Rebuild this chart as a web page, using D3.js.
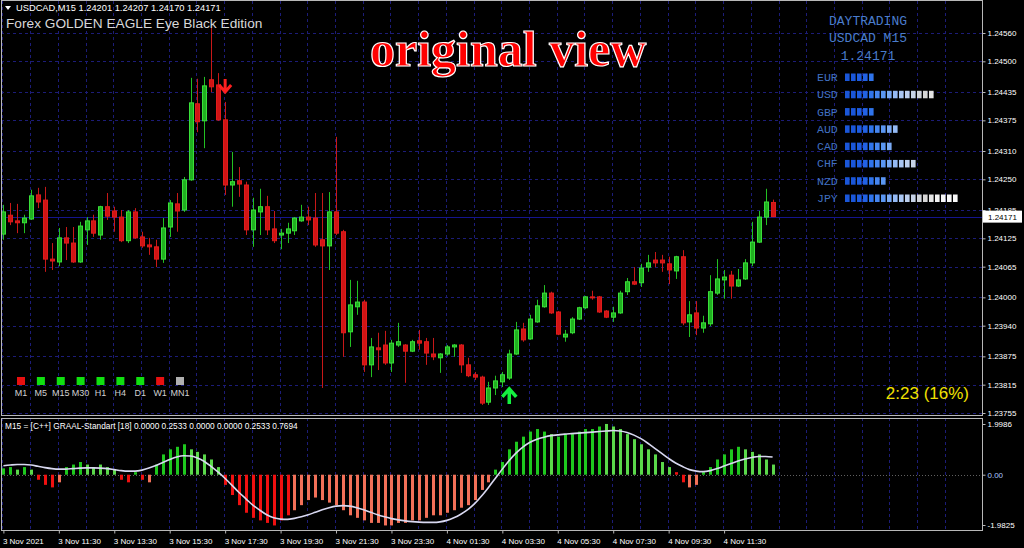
<!DOCTYPE html>
<html><head><meta charset="utf-8">
<script src="https://cdn.jsdelivr.net/npm/d3@7"></script>
<style>body{margin:0;background:#000;overflow:hidden}svg{display:block}</style>
</head><body><svg id="c" width="1024" height="548"></svg>
<script>
// ---------------- DATA ----------------
const open = [
1.24134,1.24174,1.24162,1.24158,1.24166,1.24217,1.24206,1.24081,1.24075,1.24126,
1.24115,1.24075,1.24143,1.24162,1.24132,1.24192,1.24183,1.24170,1.24120,1.24181,
1.24128,1.24111,1.24107,1.24081,1.24149,1.24198,1.24185,1.24249,1.24410,1.24374,
1.24461,1.24450,1.24376,1.24238,1.24247,1.24238,1.24143,1.24181,1.24192,1.24145,
1.24132,1.24136,1.24141,1.24162,1.24170,1.24168,1.24122,1.24109,1.24181,1.24139,
1.23927,1.23980,1.23990,1.23857,1.23893,1.23899,1.23861,1.23899,1.23899,1.23886,
1.23908,1.23906,1.23880,1.23872,1.23880,1.23895,1.23899,1.23857,1.23836,1.23831,
1.23778,1.23808,1.23821,1.23829,1.23880,1.23933,1.23912,1.23948,1.23980,1.24009,
1.23969,1.23916,1.23925,1.23954,1.23978,1.24001,1.24001,1.23971,1.23958,1.23967,
1.24012,1.24033,1.24031,1.24064,1.24079,1.24079,1.24071,1.24056,1.24086,1.23948,
1.23967,1.23935,1.23944,1.24009,1.24037,1.24047,1.24024,1.24039,1.24073,1.24117,
1.24170,1.24201];
const high = [
1.24196,1.24200,1.24198,1.24175,1.24228,1.24232,1.24234,1.24115,1.24147,1.24149,
1.24149,1.24160,1.24170,1.24175,1.24194,1.24221,1.24192,1.24185,1.24185,1.24189,
1.24139,1.24126,1.24122,1.24168,1.24206,1.24221,1.24255,1.24465,1.24463,1.24467,
1.24573,1.24475,1.24414,1.24308,1.24276,1.24245,1.24211,1.24230,1.24215,1.24183,
1.24145,1.24158,1.24170,1.24196,1.24192,1.24221,1.24221,1.24223,1.24340,1.24143,
1.24037,1.24035,1.23995,1.23914,1.23925,1.23929,1.23910,1.23946,1.23901,1.23910,
1.23931,1.23914,1.23914,1.23882,1.23899,1.23901,1.23901,1.23872,1.23842,1.23834,
1.23821,1.23834,1.23842,1.23889,1.23948,1.23946,1.23963,1.23995,1.24026,1.24012,
1.23971,1.23931,1.23958,1.23980,1.24003,1.24014,1.24003,1.23973,1.23980,1.24014,
1.24041,1.24064,1.24071,1.24090,1.24096,1.24090,1.24086,1.24088,1.24100,1.23992,
1.23992,1.23961,1.24047,1.24081,1.24058,1.24056,1.24060,1.24081,1.24160,1.24183,
1.24230,1.24207];
const low = [
1.24122,1.24153,1.24136,1.24136,1.24164,1.24189,1.24054,1.24058,1.24066,1.24079,
1.24073,1.24073,1.24111,1.24128,1.24122,1.24164,1.24139,1.24117,1.24115,1.24124,
1.24105,1.24090,1.24064,1.24073,1.24128,1.24139,1.24181,1.24247,1.24350,1.24316,
1.24435,1.24374,1.24217,1.24192,1.24213,1.24132,1.24107,1.24132,1.24132,1.24115,
1.24102,1.24115,1.24132,1.24160,1.24153,1.24107,1.23808,1.24058,1.24132,1.23874,
1.23895,1.23963,1.23842,1.23831,1.23846,1.23857,1.23842,1.23895,1.23819,1.23884,
1.23889,1.23857,1.23867,1.23840,1.23876,1.23874,1.23840,1.23831,1.23825,1.23772,
1.23772,1.23793,1.23810,1.23825,1.23878,1.23906,1.23910,1.23946,1.23978,1.23965,
1.23920,1.23906,1.23922,1.23952,1.23975,1.23995,1.23967,1.23956,1.23948,1.23965,
1.24005,1.24026,1.24022,1.24054,1.24064,1.24054,1.24028,1.24039,1.23941,1.23916,
1.23920,1.23925,1.23939,1.24005,1.23997,1.23997,1.24022,1.24037,1.24066,1.24115,
1.24153,1.24170];
const close = [
1.24181,1.24160,1.24158,1.24168,1.24215,1.24202,1.24081,1.24077,1.24126,1.24115,
1.24075,1.24151,1.24162,1.24136,1.24192,1.24172,1.24170,1.24120,1.24181,1.24126,
1.24109,1.24107,1.24081,1.24147,1.24200,1.24183,1.24249,1.24412,1.24372,1.24448,
1.24446,1.24376,1.24238,1.24245,1.24240,1.24143,1.24185,1.24192,1.24143,1.24120,
1.24136,1.24145,1.24168,1.24170,1.24164,1.24111,1.24109,1.24181,1.24136,1.23925,
1.23984,1.23990,1.23857,1.23895,1.23889,1.23861,1.23903,1.23906,1.23886,1.23906,
1.23903,1.23882,1.23874,1.23880,1.23895,1.23899,1.23857,1.23834,1.23831,1.23776,
1.23808,1.23823,1.23836,1.23880,1.23931,1.23910,1.23954,1.23982,1.24009,1.23967,
1.23922,1.23922,1.23954,1.23978,1.24001,1.23999,1.23969,1.23958,1.23967,1.24009,
1.24033,1.24028,1.24062,1.24073,1.24073,1.24073,1.24058,1.24086,1.23946,1.23963,
1.23935,1.23946,1.24012,1.24039,1.24043,1.24024,1.24037,1.24073,1.24117,1.24170,
1.24202,1.24171];

// GRAAL-Standart histogram and signal line (one value per bar)
const histValues = [
0.25,0.30,0.20,0.30,0.20,-0.20,-0.40,-0.50,-0.30,0.30,
0.40,0.50,0.40,0.30,0.40,0.30,0.20,-0.20,-0.30,0.10,
-0.20,-0.30,0.40,0.80,1.00,1.10,1.20,1.00,0.90,0.80,
0.60,0.30,-0.40,-0.80,-1.20,-1.50,-1.70,-1.80,-1.90,-2.00,
-1.80,-1.60,-1.40,-1.20,-1.00,-0.90,-1.00,-1.10,-1.20,-1.40,
-1.60,-1.70,-1.80,-1.90,-1.90,-2.00,-2.00,-1.90,-1.90,-1.80,
-1.80,-1.70,-1.60,-1.60,-1.50,-1.40,-1.30,-1.20,-1.00,-0.60,
-0.30,0.20,0.50,1.00,1.30,1.50,1.70,1.80,1.70,1.60,
1.50,1.60,1.60,1.70,1.80,1.80,1.90,2.00,1.90,1.80,
1.60,1.40,1.20,1.00,0.80,0.50,0.30,0.10,-0.30,-0.50,
-0.40,0.10,0.30,0.60,0.80,1.00,1.10,1.00,0.90,0.80,
0.60,0.40];
// colour buffer of each histogram bar: G strong up, g weak up, R strong down, r weak down
const histState =
"GGgGgRRRrG" + "GGgggggRRG" + "RrGGGGGggggg" + "RRRRRRRRRRrrr" +
"rrrrrrrrrrrrrrrrrrrrrrrrrr" + "GGGGGGGGgGGGGGGGggggggg" + "gggRRrr" + "GGGGGGggggg";
const signalLine = [
0.35,0.38,0.40,0.40,0.38,0.33,0.28,0.24,0.22,0.22,
0.24,0.26,0.27,0.27,0.26,0.24,0.20,0.16,0.14,0.14,
0.18,0.26,0.36,0.48,0.60,0.70,0.75,0.74,0.66,0.52,
0.32,0.10,-0.15,-0.42,-0.70,-0.95,-1.20,-1.40,-1.58,-1.70,
-1.75,-1.76,-1.72,-1.66,-1.58,-1.48,-1.38,-1.30,-1.24,-1.22,
-1.24,-1.30,-1.38,-1.48,-1.58,-1.66,-1.73,-1.78,-1.82,-1.85,
-1.87,-1.88,-1.88,-1.86,-1.80,-1.70,-1.56,-1.38,-1.14,-0.84,
-0.50,-0.14,0.22,0.56,0.86,1.10,1.28,1.40,1.48,1.54,
1.57,1.60,1.62,1.64,1.66,1.68,1.70,1.72,1.74,1.72,
1.66,1.56,1.42,1.24,1.04,0.84,0.64,0.46,0.32,0.20,
0.14,0.12,0.16,0.24,0.34,0.44,0.54,0.62,0.68,0.72,
0.72,0.70];

const priceTicks = [1.24560,1.24500,1.24435,1.24375,1.24310,1.24250,1.24185,1.24125,1.24065,1.24000,1.23940,1.23875,1.23815,1.23755];
const indTicks = [1.9986,0.00,-1.9825];
const indTickLabels = ["1.9986","0.00","-1.9825"];
const timeTickBars = [0,8,16,24,32,40,48,56,64,72,80,88,96,104];
const timeLabels = ["3 Nov 2021","3 Nov 11:30","3 Nov 13:30","3 Nov 15:30","3 Nov 17:30","3 Nov 19:30","3 Nov 21:30","3 Nov 23:30","4 Nov 01:30","4 Nov 03:30","4 Nov 05:30","4 Nov 07:30","4 Nov 09:30","4 Nov 11:30"];

const currencies = ["EUR","USD","GBP","AUD","CAD","CHF","NZD","JPY"];
const strength = [5,15,5,9,8,12,7,19];
const timeframes = ["M1","M5","M15","M30","H1","H4","D1","W1","MN1"];
const tfState = ["down","up","up","up","up","up","up","down","none"];

const symbolLine = "USDCAD,M15  1.24201 1.24207 1.24170 1.24171";
const eaTitle = "Forex GOLDEN EAGLE Eye Black Edition";
const indHeader = "M15 = [C++] GRAAL-Standart [18] 0.0000 0.2533 0.0000 0.0000 0.2533 0.7694";
const bid = 1.24171;
const sellArrowBar = 32, buyArrowBar = 73;
const timerText = "2:23 (16%)";
const watermark = "original view";

// ---------------- LAYOUT ----------------
const svg = d3.select("#c");
const L = 1, R = 982, mainTop = 1, mainBot = 416, indTop = 418, indBot = 530;
const x = d3.scaleLinear().domain([0, 111]).range([3.4, 772.6]);
const y = d3.scaleLinear().domain([1.23755, 1.24560]).range([413, 33]);
const yi = d3.scaleLinear().domain([-1.9825, 1.9986]).range([525, 424]);
const font = "'Liberation Sans', Arial, sans-serif";
const gridCol = "#1c1c78";

svg.append("rect").attr("width",1024).attr("height",548).attr("fill","#000");

const defs = svg.append("defs");
defs.append("clipPath").attr("id","cm").append("rect").attr("x",L).attr("y",mainTop).attr("width",R-L).attr("height",mainBot-mainTop);
defs.append("clipPath").attr("id","ci").append("rect").attr("x",L).attr("y",indTop).attr("width",R-L).attr("height",indBot-indTop);

// grid
const gridBars = d3.range(0, 140, 4);
const g = svg.append("g").attr("stroke",gridCol).attr("stroke-dasharray","3,3").attr("stroke-width",1);
g.selectAll("line.h").data(priceTicks).join("line")
  .attr("x1",L).attr("x2",R).attr("y1",d=>Math.round(y(d))+0.5).attr("y2",d=>Math.round(y(d))+0.5);
g.selectAll("line.v").data(gridBars.filter(b=>x(b)-1<R)).join("line")
  .attr("x1",d=>Math.round(x(d)-1)+0.5).attr("x2",d=>Math.round(x(d)-1)+0.5).attr("y1",mainTop).attr("y2",mainBot);
g.selectAll("line.vi").data(gridBars.filter(b=>x(b)-1<R)).join("line")
  .attr("x1",d=>Math.round(x(d)-1)+0.5).attr("x2",d=>Math.round(x(d)-1)+0.5).attr("y1",indTop).attr("y2",indBot);

// bid line
svg.append("line").attr("x1",L).attr("x2",R).attr("y1",Math.round(y(bid))+0.5).attr("y2",Math.round(y(bid))+0.5)
  .attr("stroke","#14148c").attr("stroke-width",1);

// watermark
svg.append("text").attr("x",370).attr("y",66).text(watermark)
  .attr("font-family","'Liberation Serif','Times New Roman',serif").attr("font-size",50).attr("font-weight","bold")
  .attr("fill","#ff0000").attr("stroke","#ffffff").attr("stroke-width",1.2).attr("paint-order","fill");

// candles
const bars = d3.range(open.length);
const cg = svg.append("g").attr("clip-path","url(#cm)");
const up = i => close[i] >= open[i];
cg.selectAll("line.w").data(bars).join("line")
  .attr("x1",i=>Math.round(x(i))+0.5).attr("x2",i=>Math.round(x(i))+0.5)
  .attr("y1",i=>y(high[i])).attr("y2",i=>y(low[i]))
  .attr("stroke",i=>up(i)?"#22c022":"#c81818").attr("stroke-width",1);
cg.selectAll("rect.b").data(bars).join("rect")
  .attr("x",i=>Math.round(x(i))-1.5).attr("width",4)
  .attr("y",i=>y(Math.max(open[i],close[i]))).attr("height",i=>Math.max(1,Math.abs(y(open[i])-y(close[i]))))
  .attr("fill",i=>up(i)?"#20b020":"#d01414").attr("stroke",i=>up(i)?"#3ae03a":"#e01c1c").attr("stroke-width",1);

// arrows
const sx = x(sellArrowBar), sy = y(high[sellArrowBar]) - 10;
svg.append("path").attr("d",`M${sx},${sy-13}V${sy} M${sx-6},${sy-7}L${sx},${sy}L${sx+6},${sy-7}`)
  .attr("fill","none").attr("stroke","#ff2020").attr("stroke-width",3);
const bx = x(buyArrowBar), by = y(low[buyArrowBar]) + 9;
svg.append("path").attr("d",`M${bx},${by+15}V${by} M${bx-7},${by+8}L${bx},${by}L${bx+7},${by+8}`)
  .attr("fill","none").attr("stroke","#14f040").attr("stroke-width",3.5);

// header texts
svg.append("path").attr("d","M5,6L11,6L8,10Z").attr("fill","#fff");
svg.append("text").attr("x",16).attr("y",11).text(symbolLine).attr("font-family",font).attr("font-size",9.3).attr("fill","#fff");
svg.append("text").attr("x",6).attr("y",28).text(eaTitle).attr("font-family",font).attr("font-size",13.7).attr("fill","#d8d8d8");

// dashboard
const mono = "'Liberation Mono','Courier New',monospace";
const dash = svg.append("g").attr("font-family",mono).attr("fill","#4a7ccc");
[["DAYTRADING",25],["USDCAD M15",42],["1.24171",60]].forEach(([t,yy])=>{
  dash.append("text").attr("x",868).attr("y",yy).attr("text-anchor","middle").attr("font-size",13).text(t);
});
const blockCols = ["#1a56d8","#1a56d8","#1d5ce0","#2262e4","#2f74ec","#4686f0","#5a96f2","#79aaf4","#94baf4","#a9c6f2","#bccfee","#c6d2e6","#cfd3da","#d6d6d6","#e4e4e4","#f2f2f2","#f6f6f6","#f8f8f8","#fafafa"];
const rowY = d3.scaleLinear().domain([0,7]).range([81,202]);
currencies.forEach((c,k)=>{
  dash.append("text").attr("x",817).attr("y",rowY(k)).attr("font-size",11.5).attr("fill","#4070c0").text(c);
  dash.selectAll(null).data(d3.range(strength[k])).join("rect")
    .attr("x",j=>845+j*6).attr("y",rowY(k)-7.5).attr("width",4.6).attr("height",7.5)
    .attr("fill",j=>blockCols[j]);
});

// timeframe squares
const tfx = d3.scaleLinear().domain([0,8]).range([21,180]);
const tfCol = {up:"#10e010",down:"#e81010",none:"#b0b0b0"};
timeframes.forEach((t,k)=>{
  svg.append("rect").attr("x",tfx(k)-4).attr("y",377).attr("width",8).attr("height",8).attr("fill",tfCol[tfState[k]]);
  svg.append("text").attr("x",tfx(k)).attr("y",396).attr("text-anchor","middle").attr("font-family",font).attr("font-size",9).attr("fill","#d0d0d0").text(t);
});
svg.append("text").attr("x",969).attr("y",399).attr("text-anchor","end").attr("font-family",font).attr("font-size",17).attr("fill","#f0e000").text(timerText);

// indicator panel
const ig = svg.append("g").attr("clip-path","url(#ci)");
const z0 = yi(0);
ig.append("line").attr("x1",L).attr("x2",R).attr("y1",Math.round(z0)+0.5).attr("y2",Math.round(z0)+0.5).attr("stroke","#606060").attr("stroke-dasharray","1,2");
const stateCol = {G:"#1ec81e", g:"#5ad84a", R:"#f01010", r:"#f27058"};
ig.selectAll("rect.h").data(histValues).join("rect")
  .attr("x",(d,i)=>Math.round(x(i))-1).attr("width",3)
  .attr("y",d=>Math.min(yi(d),z0)).attr("height",d=>Math.abs(yi(d)-z0))
  .attr("fill",(d,i)=>stateCol[histState[i]]);
ig.append("path").datum(signalLine)
  .attr("d",d3.line().x((d,i)=>x(i)).y(d=>yi(d)).curve(d3.curveMonotoneX))
  .attr("fill","none").attr("stroke","#d8d8f0").attr("stroke-width",1.6);
svg.append("text").attr("x",5).attr("y",429).text(indHeader).attr("font-family",font).attr("font-size",8.3).attr("fill","#fff");

// frames
svg.append("rect").attr("x",L+0.5).attr("y",mainTop-0.5).attr("width",R-L).attr("height",mainBot-mainTop).attr("fill","none").attr("stroke","#b8b8b8");
svg.append("rect").attr("x",L+0.5).attr("y",indTop+0.5).attr("width",R-L).attr("height",indBot-indTop).attr("fill","none").attr("stroke","#b8b8b8");

// price axis
const ay = svg.append("g").attr("transform",`translate(${R+0.5},0)`)
  .call(d3.axisRight(y).tickValues(priceTicks).tickFormat(d3.format(".5f")).tickSize(3).tickPadding(2));
ay.select(".domain").remove();
ay.selectAll("line").attr("stroke","#b8b8b8");
ay.selectAll("text").attr("fill","#fff").attr("font-family",font).attr("font-size",8);
// bid label
const bl = svg.append("g").attr("transform",`translate(${R+1},${y(bid)})`);
bl.append("rect").attr("x",0).attr("y",-6).attr("width",39).attr("height",12).attr("fill","#fff");
bl.append("text").attr("x",5).attr("y",3).text(d3.format(".5f")(bid)).attr("font-family",font).attr("font-size",8).attr("fill","#000");

// indicator axis
const ai = svg.append("g").attr("transform",`translate(${R+0.5},0)`)
  .call(d3.axisRight(yi).tickValues(indTicks).tickFormat((d,i)=>indTickLabels[i]).tickSize(3).tickPadding(2));
ai.select(".domain").remove();
ai.selectAll("line").attr("stroke","#b8b8b8");
ai.selectAll("text").attr("fill",(d,i)=>i===1?"#a8c8ff":"#fff").attr("font-family",font).attr("font-size",8);

// time axis
const ax = svg.append("g").attr("transform",`translate(0,${indBot+0.5})`)
  .call(d3.axisBottom(x).tickValues(timeTickBars).tickFormat((d,i)=>timeLabels[i]).tickSize(3).tickPadding(5));
ax.select(".domain").remove();
ax.selectAll("line").attr("stroke","#b8b8b8");
ax.selectAll("text").attr("text-anchor","start").attr("dx",-1).attr("fill","#fff").attr("font-family",font).attr("font-size",8);
</script></body></html>
